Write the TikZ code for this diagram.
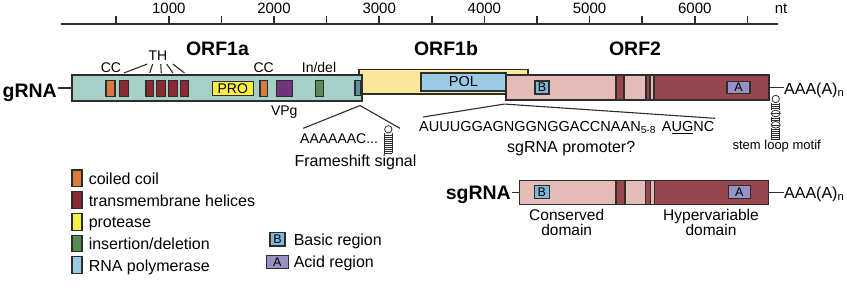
\documentclass[tikz,border=0pt]{standalone}
\usepackage{fontspec}
\setmainfont{Liberation Sans}
\usetikzlibrary{positioning,calc}
\definecolor{rnaedge}{RGB}{45,45,45}
\definecolor{rnateal}{RGB}{166,207,199}
\definecolor{rnafs}{RGB}{88,145,155}
\definecolor{rnacc}{RGB}{215,122,60}
\definecolor{rnatm}{RGB}{140,42,52}
\definecolor{rnapro}{RGB}{251,238,67}
\definecolor{rnaorfb}{RGB}{250,231,155}
\definecolor{rnavpg}{RGB}{112,52,125}
\definecolor{rnaindel}{RGB}{86,140,84}
\definecolor{rnapol}{RGB}{153,203,228}
\definecolor{rnapink}{RGB}{229,187,183}
\definecolor{rnahv}{RGB}{152,70,78}
\definecolor{rnaacid}{RGB}{152,145,195}
\definecolor{rnabasic}{RGB}{125,185,215}
\tikzset{
  seg/.style={draw=rnaedge, line width=1.1pt, inner sep=0pt, minimum height=16pt},
  orfa/.style={seg, fill=rnateal, minimum height=26pt},
  orfb/.style={seg, fill=rnaorfb},
  orfc/.style={seg, fill=rnapink},
  hv/.style={seg, fill=rnahv},
  cc/.style={seg, fill=rnacc},
  tm/.style={seg, fill=rnatm},
  pro/.style={seg, fill=rnapro, minimum height=14pt, font=\fontsize{14}{14}\selectfont},
  vpg/.style={seg, fill=rnavpg},
  indel/.style={seg, fill=rnaindel},
  fsbox/.style={seg, fill=rnafs, minimum height=15pt},
  pol/.style={seg, fill=rnapol, minimum height=18pt, font=\fontsize{14.5}{14.5}\selectfont},
  basic/.style={seg, fill=rnabasic, minimum height=13pt, font=\fontsize{12.5}{12.5}\selectfont},
  acid/.style={seg, fill=rnaacid, minimum height=12.5pt, font=\fontsize{12.5}{12.5}\selectfont},
  swatch/.style={minimum width=10pt, minimum height=16.7pt},
  lnk/.style={draw=rnaedge, line width=1.1pt},
  axisln/.style={draw=rnaedge, line width=1.5pt},
  loopln/.style={draw=rnaedge, line width=0.8pt},
  rung/.style={draw=rnaedge, line width=0.45pt},
  num/.style={inner sep=0pt, font=\fontsize{15}{15}\selectfont},
  orflbl/.style={inner sep=0pt, font=\bfseries\fontsize{19.5}{19.5}\selectfont},
  rnalbl/.style={inner sep=1pt, font=\bfseries\fontsize{19.5}{19.5}\selectfont},
  small/.style={inner sep=0pt, font=\fontsize{14}{14}\selectfont},
  seq/.style={inner sep=0pt, font=\fontsize{14.5}{14.5}\selectfont},
  tiny/.style={inner sep=0pt, font=\fontsize{13}{13}\selectfont},
  txt/.style={inner sep=0pt, font=\fontsize{16}{14}\selectfont},
  dom/.style={inner sep=0pt, align=center, font=\fontsize{15.5}{14.5}\selectfont},
  lgtxt/.style={txt, text height=12pt, text depth=0pt}
}
\begin{document}
\begin{tikzpicture}[x=1pt, y=-1pt]
  \useasboundingbox (0,0) rectangle (847,293);
  % nt scale
  \coordinate (ax0) at (61,24);
  \coordinate (ax1) at (778,24);
  \draw[axisln] (ax0) -- (ax1);
  \foreach \n in {500,1000,...,6500}
    \draw[axisln] ({63.6+0.1052*\n},24) -- ++(0,-8);
  \foreach \n in {1000,2000,...,6000}
    \node[num, anchor=base] (k\n) at ({63.6+0.1052*\n},13.3) {\n};
  \node[num, anchor=base] (nt) at (781,13.3) {nt};

  % gRNA
  \node[orfb, minimum width=169pt, minimum height=24.5pt] (orf1b) at (443.5,81.75) {};
  \node[pol, minimum width=85pt] (pol) at (463.5,82) {POL};
  \node[orfa, minimum width=290pt] (orf1a) at (217,88) {};
  \node[cc, minimum width=9pt] (cc1) at (110.5,88.7) {};
  \node[tm, minimum width=9.5pt] (tm1) at (124,88.7) {};
  \node[tm, minimum width=7.5pt] (tm2) at (149.7,88.7) {};
  \node[tm, minimum width=9pt] (tm3) at (161.3,88.7) {};
  \node[tm, minimum width=9pt] (tm4) at (172.8,88.7) {};
  \node[tm, minimum width=7.5pt] (tm5) at (184.5,88.7) {};
  \node[pro, minimum width=41pt] (pro) at (232.8,88.7) {PRO};
  \node[cc, minimum width=7.5pt] (cc2) at (263.7,88.7) {};
  \node[vpg, minimum width=15.5pt] (vpg) at (284.5,88.7) {};
  \node[indel, minimum width=7.5pt] (indel) at (319.5,88.7) {};
  \node[fsbox, minimum width=6pt] (fs) at (358,88) {};
  \node[orfc, minimum width=263pt, minimum height=25pt] (orf2) at (637.5,87.5) {};
  \node[hv, minimum width=8pt, minimum height=25pt] (hv1) at (620,87.5) {};
  \node[hv, minimum width=4pt, minimum height=25pt] (hv2) at (648,87.5) {};
  \node[hv, minimum width=115pt, minimum height=25pt] (hv3) at (711.5,87.5) {};
  \node[basic, minimum width=14pt] (bas1) at (542,87.5) {B};
  \node[acid, minimum width=23pt] (acd1) at (738.5,87.5) {A};

  \node[orflbl, anchor=base] (l1a) at (217.5,55) {ORF1a};
  \node[orflbl, anchor=base] (l1b) at (446,55) {ORF1b};
  \node[orflbl, anchor=base] (l2) at (635,55) {ORF2};
  \node[rnalbl, anchor=base east] (grna) at (58,97) {gRNA};
  \draw[lnk] (grna.east |- orf1a.west) -- (orf1a.west);

  \node[small, anchor=base] (cclbl1) at (111,72.7) {CC};
  \node[small, anchor=base] (th) at (158,60) {TH};
  \node[small, anchor=base] (cclbl2) at (263.7,72.7) {CC};
  \node[small, anchor=base] (indellbl) at (319,72.7) {In/del};
  \node[small, anchor=base] (vpglbl) at (284.3,115) {VPg};
  \foreach \t/\dx in {tm1/-10.7, tm2/-5.3, tm3/2.7, tm4/8.7, tm5/14.7}
    \draw[lnk] ($(th.base)+(\dx,4)$) -- ($(\t |- orf1a.north)+(0,-1.5)$);

  % frameshift
  \coordinate (fsapex) at ($(fs.south)+(2,9.5)$);
  \coordinate (fsl) at (303.3,128.3);
  \coordinate (fsr) at (400,128.3);
  \draw[lnk] (fsl) -- (fsapex) -- (fsr);
  \node[small, anchor=base west] (slip) at (300,143.3) {AAAAAAC...};
  \node[txt, anchor=base] (fslbl) at (355.5,166.7) {Frameshift signal};
  \draw[loopln] (388.3,129.3) circle (3.7pt);
  \draw[loopln] (384.3,133) -- (384.3,153.3) (392.3,133) -- (392.3,153.3);
  \foreach \y in {135,137,...,153}
    \draw[rung] (384.3,\y) -- (392.3,\y);

  % promoter
  \coordinate (sgapex) at ($(orf2.south west)+(-1,3.5)$);
  \coordinate (sgl) at (423,117);
  \coordinate (sgr) at (715,118.3);
  \draw[lnk] (sgl) -- (sgapex) -- (sgr);
  \node[seq, anchor=base west] (prom) at (419,131.7)
    {AUUUGGAGNGGNGGACCNAAN\textsubscript{5-8}\hspace{6pt}A\underline{UG}NC};
  \node[txt, anchor=base west] (promlbl) at (507,152.5) {sgRNA promoter?};

  % 3' end
  \node[txt, anchor=base west] (polya1) at (784,94) {AAA(A)\textsubscript{n}};
  \draw[lnk] (orf2.east) -- (orf2.east -| polya1.west);
  \draw[loopln] (775.7,99) circle (3.7pt);
  \draw[loopln] (771.7,102.7) -- (771.7,110.2) (779.7,102.7) -- (779.7,110.2);
  \foreach \y in {104.5,106.5,108.5}
    \draw[rung] (771.7,\y) -- (779.7,\y);
  \draw[loopln] (775.7,113.5) ellipse (4.5pt and 3.3pt);
  \draw[rung] (771.7,113.5) -- (779.7,113.5);
  \draw[loopln] (771.7,116.8) -- (771.7,121.5) (779.7,116.8) -- (779.7,121.5);
  \foreach \y in {118.3,120}
    \draw[rung] (771.7,\y) -- (779.7,\y);
  \draw[loopln] (775.7,124.8) ellipse (4.5pt and 3.3pt);
  \draw[rung] (771.7,124.8) -- (779.7,124.8);
  \draw[loopln] (771.7,128.1) -- (771.7,140) (779.7,128.1) -- (779.7,140);
  \foreach \y in {129.7,131.7,...,140}
    \draw[rung] (771.7,\y) -- (779.7,\y);
  \node[tiny, anchor=base] (loopl) at (776.7,149.3) {stem loop motif};

  % sgRNA
  \node[orfc, minimum width=249pt, minimum height=24.3pt] (sg) at (643.8,192.2) {};
  \node[hv, minimum width=9pt, minimum height=24.3pt] (sghv1) at (620.5,192.2) {};
  \node[hv, minimum width=5pt, minimum height=24.3pt] (sghv2) at (648.2,192.2) {};
  \node[hv, minimum width=114.3pt, minimum height=24.3pt] (sghv3) at (711.2,192.2) {};
  \node[basic, minimum width=15pt, minimum height=13.3pt] (bas2) at (541.8,191.7) {B};
  \node[acid, minimum width=21.7pt, minimum height=13.3pt] (acd2) at (739.2,191.7) {A};
  \node[rnalbl, anchor=base east] (sgrna) at (512,199.3) {sgRNA};
  \draw[lnk] (sgrna.east |- sg.west) -- (sg.west);
  \node[txt, anchor=base west] (polya2) at (784,198.3) {AAA(A)\textsubscript{n}};
  \draw[lnk] (sg.east) -- (sg.east -| polya2.west);
  \node[dom, anchor=north] (cons) at (566.7,209.3) {Conserved\\domain};
  \node[dom, anchor=north] (hyp) at (711,209.3) {Hypervariable\\domain};

  % legend
  \node[cc, swatch] (lgcc) at (77,178.3) {};
  \node[tm, swatch, below=3.9pt of lgcc] (lgtm) {};
  \node[pro, swatch, below=3.9pt of lgtm] (lgpro) {};
  \node[indel, swatch, below=3.9pt of lgpro] (lgindel) {};
  \node[pol, swatch, below=3.9pt of lgindel] (lgpol) {};
  \node[lgtxt, right=6pt of lgcc] (lgcctxt) {coiled coil};
  \node[lgtxt, right=6pt of lgtm] (lgtmtxt) {transmembrane helices};
  \node[lgtxt, right=6pt of lgpro] (lgprotxt) {protease};
  \node[lgtxt, right=6pt of lgindel] (lgindeltxt) {insertion/deletion};
  \node[lgtxt, right=6pt of lgpol] (lgpoltxt) {RNA polymerase};
  \node[basic, minimum width=15pt, minimum height=13.3pt] (lgbas) at (277.5,239.3) {B};
  \node[lgtxt, right=8pt of lgbas] (lgbastxt) {Basic region};
  \node[acid, minimum width=22.3pt, minimum height=13.3pt] (lgacd) at (277.2,261.7) {A};
  \node[lgtxt, right=4.7pt of lgacd] (lgacdtxt) {Acid region};
\end{tikzpicture}
\end{document}
